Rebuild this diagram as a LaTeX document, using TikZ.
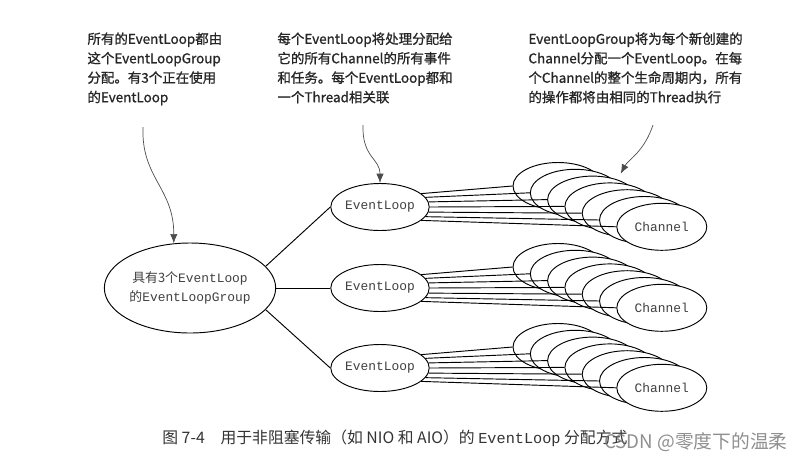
\documentclass[tikz,border=0pt]{standalone}
\usepackage{fontspec}
\setmainfont{Noto Sans CJK SC}
\newfontfamily\cjk{Noto Sans CJK SC}
\newfontfamily\notefont{Noto Sans CJK SC}[FakeBold=1]
\setmonofont{Liberation Mono}
\usetikzlibrary{calc}
\usetikzlibrary{positioning}
\usetikzlibrary{shapes.geometric}
\usetikzlibrary{arrows.meta}

\begin{document}
\begin{tikzpicture}[x=0.03cm, y=-0.03cm, line width=0.8pt,
    note/.style={align=left, anchor=north west, inner sep=0pt, text=black!85, font=\notefont\fontsize{11.5}{16.6}\selectfont},
    oval/.style={ellipse, draw=black, fill=white, inner sep=0pt, text=black!75, font=\ttfamily\fontsize{11}{16}\selectfont},
    elbox/.style={oval, minimum width=2.55cm, minimum height=1.41cm},
    chan/.style={oval, minimum width=2.7cm, minimum height=1.41cm},
    pointer/.style={draw=black!70, line width=0.6pt, -{Latex[length=2.8mm,width=2.2mm]}}]
    \useasboundingbox (0,0) rectangle (805,462);
    \node[note] (n1) at (87,32) {所有的EventLoop都由\\这个EventLoopGroup\\分配。有3个正在使用\\的EventLoop};
    \node[note] (n2) at (277,32) {每个EventLoop将处理分配给\\它的所有Channel的所有事件\\和任务。每个EventLoop都和\\一个Thread相关联};
    \node[note] (n3) at (528,32) {EventLoopGroup将为每个新创建的\\Channel分配一个EventLoop。在每\\个Channel的整个生命周期内，所有\\的操作都将由相同的Thread执行};
    \node[oval, align=center, minimum width=4.95cm, minimum height=2.7cm] (grp) at (190,288)
        {{\cjk 具有3个}EventLoop\\{\cjk 的}EventLoopGroup};
    \def\Y{207, 288, 368}
    \foreach \y[count=\s from 1] in \Y
    {
        \node[elbox] (el\s) at (380,\y) {EventLoop};
        \foreach \i[evaluate=\i as \ang using int(24-6*\i)] in {1,...,7}
        {
            \node[chan] (ch\s\i) at ({558+17.3*(\i-1)}, {\y-21+6.8*(\i-1)}) {\ifnum\i=7 Channel\fi};
            \draw (el\s.\ang) -- (ch\s\i.west);
        }
    }
    \draw (grp.16) -- (el1.west);
    \draw (grp.east) -- (el2.west);
    \draw (grp.-16) -- (el3.west);
    \coordinate (p1) at (143,127);
    \coordinate (p2) at (363,125);
    \coordinate (p3) at (653,125);
    \coordinate (q3) at ($(ch13.north east)+(-4,-9)$);
    \draw[pointer] (p1) .. controls (141,178) and (174,188) .. (grp.110);
    \draw[pointer] (p2) .. controls (362,158) and (380,158) .. (el1.north);
    \draw[pointer] (p3) .. controls (644,152) and (628,160) .. (q3);
    \node[anchor=west, text=black!80, font=\fontsize{13.5}{16}\selectfont] (cap) at (158,438)
        {图 7-4\quad 用于非阻塞传输（如 NIO 和 AIO）的 {\ttfamily\fontsize{13}{16}\selectfont EventLoop} 分配方式};
    \node[anchor=east, text=black!55, opacity=0.8, font=\fontsize{16}{18}\selectfont] (wm) at (792,442) {CSDN @零度下的温柔};
\end{tikzpicture}
\end{document}
